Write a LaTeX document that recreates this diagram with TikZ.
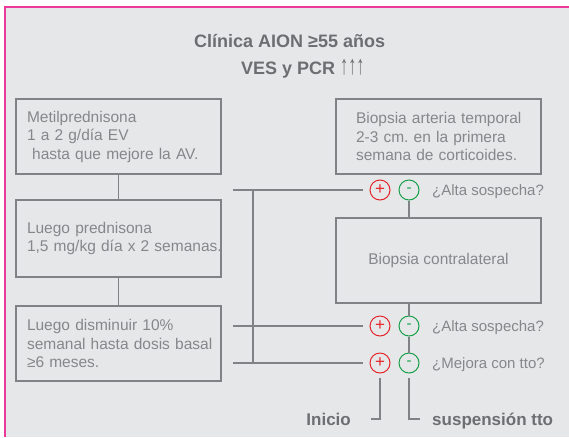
\documentclass[tikz,border=0pt]{standalone}
\usepackage{fontspec}
\setmainfont{Liberation Sans}
\frenchspacing
\definecolor{fondo}{HTML}{E6E7E8}
\definecolor{rosa}{HTML}{EC3A9C}
\definecolor{linea}{HTML}{808285}
\definecolor{texto}{HTML}{86878A}
\definecolor{titulo}{HTML}{6D6E71}
\definecolor{rojo}{HTML}{E5252B}
\definecolor{verde}{HTML}{17A04A}
\begin{document}
\begin{tikzpicture}[x=1pt,y=-1pt,
  caja/.style={draw=linea, line width=1.1pt, minimum width=205pt, text=texto,
    font=\fontsize{15.5}{18.5}\selectfont},
  cajaizq/.style={caja, text width=183pt, inner xsep=11pt, align=left},
  conector/.style={draw=linea, line width=1.1pt},
  mas/.style={circle, draw=rojo, line width=1pt, minimum size=20pt, inner sep=0pt,
    text=rojo, font=\fontsize{17}{17}\selectfont},
  menos/.style={circle, draw=verde, line width=1pt, minimum size=20pt, inner sep=0pt,
    text=verde, font=\fontsize{15}{15}\selectfont},
  pregunta/.style={anchor=base west, inner sep=0pt, text=texto, font=\fontsize{15}{15}\selectfont},
  negrita/.style={inner sep=0pt, text=titulo, font=\fontsize{17}{17}\selectfont\bfseries}]
  \useasboundingbox (0,0) rectangle (569,437);

  %% fondo
  \fill[fondo] (5,6.7) rectangle (569,437);
  \draw[rosa, line width=1.8pt] (5,437) -- (5,6.7) -- (569,6.7);

  %% titulo
  \node[negrita, anchor=base west, font=\fontsize{18}{18}\selectfont\bfseries] (tit1) at (194,47.5) {Clínica AION ≥55 años};
  \node[negrita, anchor=base west, font=\fontsize{18}{18}\selectfont\bfseries] (tit2) at (241,74)
    {VES y PCR \scalebox{0.9}[1.5]{↑↑↑}};

  %% tratamiento
  \node[cajaizq, minimum height=75pt] (metil) at (118.5,136.5)
    {\mbox{Metilprednisona}\\\mbox{1 a 2 g/día EV}\\\mbox{\ hasta que mejore la AV.}};
  \node[cajaizq, minimum height=77pt] (pred) at (118.5,238.5)
    {\mbox{Luego prednisona}\\\mbox{1,5 mg/kg día x 2 semanas.}};
  \node[cajaizq, minimum height=75pt] (dismin) at (118.5,343.5)
    {\mbox{Luego disminuir 10\%}\\\mbox{semanal hasta dosis basal}\\\mbox{≥6 meses.}};
  \draw[conector] (metil) -- (pred);
  \draw[conector] (pred) -- (dismin);

  %% biopsias
  \node[caja, text width=165pt, inner xsep=20pt, align=left, minimum height=75pt] (biopsia) at (438.5,136.5)
    {\mbox{Biopsia arteria temporal}\\\mbox{2-3 cm. en la primera}\\\mbox{semana de corticoides.}};
  \node[caja, minimum height=85pt] (contra) at (438.5,260.5) {Biopsia contralateral};

  %% preguntas
  \node[mas] (pA) at (380,190) {+};
  \node[menos] (mA) at (409,190) {-};
  \node[pregunta] (qA) at (432,195.5) {¿Alta sospecha?};
  \node[mas] (pB) at (380,326) {+};
  \node[menos] (mB) at (409,326) {-};
  \node[pregunta] (qB) at (432,331.5) {¿Alta sospecha?};
  \node[mas] (pC) at (380,363) {+};
  \node[menos] (mC) at (409,363) {-};
  \node[pregunta] (qC) at (432,368.5) {¿Mejora con tto?};

  \draw[conector] (mA) -- (mA |- contra.north);
  \draw[conector] (mB |- contra.south) -- (mB);
  \draw[conector] (mB) -- (mC);

  %% union con tratamiento
  \coordinate (jA) at (233,190);
  \coordinate (jB) at (233,326);
  \coordinate (jC) at (233,363);
  \coordinate (kA) at (253,190);
  \coordinate (kC) at (253,363);
  \draw[conector, shorten >=7pt] (jA) -- (pA);
  \draw[conector, shorten >=7pt] (jB) -- (pB);
  \draw[conector, shorten >=7pt] (jC) -- (pC);
  \draw[conector] (kA) -- (kC);

  %% resultado
  \coordinate (cI) at (371,419);
  \coordinate (cS) at (420,419);
  \draw[conector, shorten <=4pt] (pC) |- (cI);
  \draw[conector, shorten <=4pt] (mC) |- (cS);
  \node[negrita, anchor=base east] (inicio) at (351,425) {Inicio};
  \node[negrita, anchor=base west] (susp) at (432,425) {suspensión tto};

\end{tikzpicture}
\end{document}
